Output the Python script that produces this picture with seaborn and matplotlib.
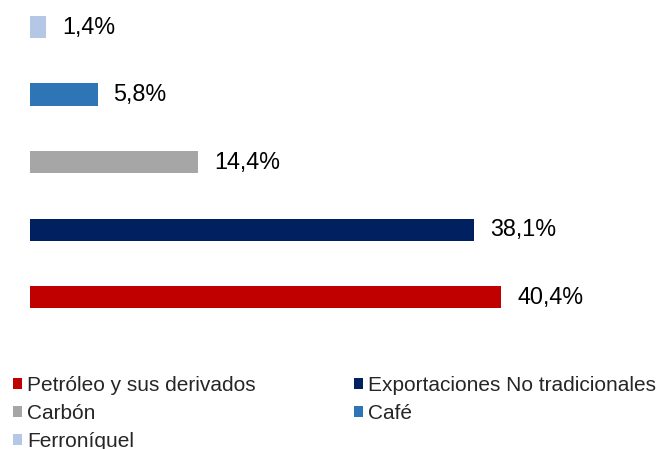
import matplotlib
matplotlib.use("Agg")
import matplotlib.pyplot as plt
import seaborn as sns
import pandas as pd
from matplotlib.patches import Patch

categories = ["Ferroníquel", "Café", "Carbón", "Exportaciones No tradicionales", "Petróleo y sus derivados"]
values = [1.4, 5.8, 14.4, 38.1, 40.4]
colors = ["#B4C7E7", "#2E75B6", "#A6A6A6", "#002060", "#C00000"]
# legend read row-wise: Petróleo | Exportaciones ; Carbón | Café ; Ferroníquel
legend_order = ["Petróleo y sus derivados", "Carbón", "Ferroníquel",
                "Exportaciones No tradicionales", "Café"]

sns.set_style("white")
plt.rcParams["font.family"] = ["Liberation Sans", "DejaVu Sans"]

df = pd.DataFrame({"cat": categories, "val": values})

W, H = 660, 449
fig = plt.figure(figsize=(W / 100, H / 100), dpi=100)
ax = fig.add_axes([30 / W, 1 - 331 / H, 600 / W, 331 / H])

sns.barplot(data=df, x="val", y="cat", hue="cat", palette=colors, order=categories,
            hue_order=categories, orient="h", width=0.33, legend=False, ax=ax,
            saturation=1, linewidth=0, edgecolor="none")
ax.set_xlim(0, 600 / 11.66)
ax.set_ylim(4.5, -0.4)
ax.set_axis_off()

for i, v in enumerate(values):
    ax.annotate(f"{v:.1f}".replace(".", ",") + "%", xy=(v, i), xytext=(11.5, 0),
                textcoords="offset points", va="center", ha="left", fontsize=16.8,
                color="#000000")

col_map = dict(zip(categories, colors))
handles = [Patch(facecolor=col_map[c], edgecolor="none", label=c) for c in legend_order]
fig.legend(handles=handles, loc="upper left", bbox_to_anchor=(13 / W, 1 - 376 / H),
           ncol=2, frameon=False, fontsize=15.0, handlelength=0.43, handleheight=0.43,
           handletextpad=0.25, columnspacing=4.7, labelspacing=0.44, borderpad=0,
           borderaxespad=0)

fig.savefig("out.png", dpi=100)
